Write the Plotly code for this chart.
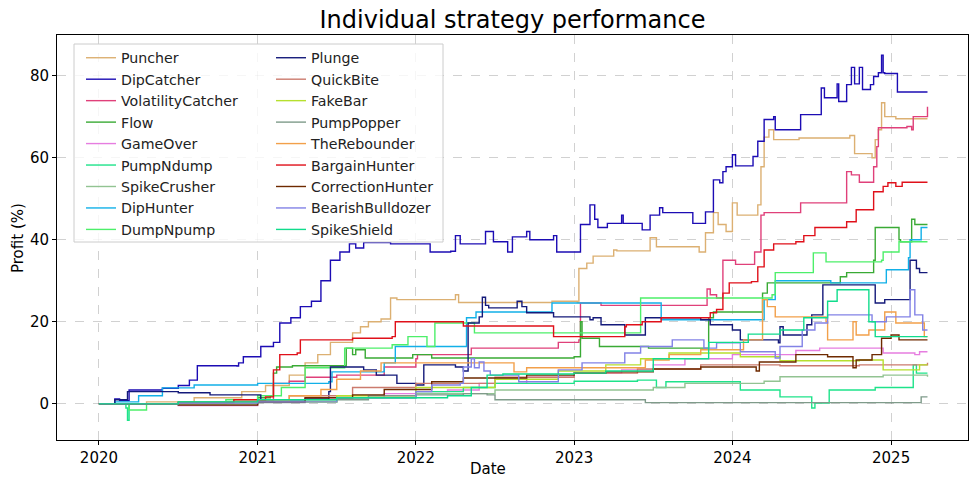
import pandas as pd
import plotly.graph_objects as go

# ---- data (time as decimal year, value as profit %) ----
PUNCHER_T = [2020.00, 2020.30, 2020.60, 2020.90, 2021.05, 2021.20, 2021.30, 2021.38, 2021.46, 2021.60, 2021.65, 2021.70, 2021.78, 2021.84, 2021.88, 2022.25, 2022.27, 2022.84, 2022.86, 2023.02, 2023.03, 2023.08, 2023.12, 2023.25, 2023.27, 2023.48, 2023.52, 2023.75, 2023.79, 2023.83, 2023.88, 2023.91, 2023.96, 2024.00, 2024.03, 2024.14, 2024.16, 2024.18, 2024.20, 2024.23, 2024.26, 2024.40, 2024.42, 2024.72, 2024.74, 2024.77, 2024.87, 2024.88, 2024.90, 2024.92, 2024.94, 2024.96, 2025.03, 2025.23]
PUNCHER_V = [0, 0.5, 1.5, 3, 4.5, 7, 10, 12, 15, 17.3, 18.8, 20, 20.7, 25.8, 25.4, 26.6, 24.7, 24.7, 25, 24.7, 33, 34.3, 36, 37.5, 37.3, 40.5, 38.3, 38.3, 37, 41.7, 46.6, 43.7, 42, 49, 46, 46, 48.5, 57.8, 65, 66.8, 64.4, 64.4, 64.8, 64.8, 65.4, 61, 61, 60, 64.4, 66.8, 73.4, 70, 69.5, 69.5]

DIPCATCHER_T = [2020.00, 2020.10, 2020.13, 2020.19, 2020.40, 2020.50, 2020.57, 2020.62, 2020.87, 2020.88, 2020.91, 2021.00, 2021.02, 2021.06, 2021.10, 2021.14, 2021.21, 2021.27, 2021.34, 2021.40, 2021.46, 2021.52, 2021.58, 2021.62, 2021.67, 2021.84, 2022.01, 2022.09, 2022.22, 2022.25, 2022.28, 2022.42, 2022.44, 2022.49, 2022.55, 2022.58, 2022.61, 2022.70, 2022.72, 2022.85, 2022.87, 2022.89, 2023.02, 2023.04, 2023.10, 2023.13, 2023.15, 2023.21, 2023.30, 2023.31, 2023.42, 2023.43, 2023.48, 2023.54, 2023.56, 2023.73, 2023.75, 2023.81, 2023.83, 2023.88, 2023.92, 2023.94, 2023.96, 2024.00, 2024.02, 2024.11, 2024.13, 2024.16, 2024.20, 2024.26, 2024.27, 2024.41, 2024.43, 2024.55, 2024.56, 2024.58, 2024.66, 2024.67, 2024.72, 2024.75, 2024.77, 2024.80, 2024.82, 2024.87, 2024.89, 2024.92, 2024.94, 2024.95, 2024.96, 2025.04, 2025.23]
DIPCATCHER_V = [0, 1.2, 0.8, 3.4, 3.8, 4.5, 5.8, 9.3, 9.2, 10, 11.5, 11.5, 14, 14, 15, 19.7, 21, 23.7, 25, 30, 35, 37, 39, 38, 39.3, 39, 39, 37, 37.2, 41, 39, 39, 42, 39.5, 39.5, 37, 40.7, 42, 40, 40, 41, 37, 37, 43.7, 48.5, 45, 43, 44, 46, 44, 44, 42.4, 46, 47.8, 46.6, 46.6, 44, 44, 46.8, 54.6, 53.9, 56.6, 57.8, 60.7, 58, 58, 60.3, 64, 69.3, 70, 66.8, 66.8, 70.5, 70.5, 77, 74.6, 78, 73.7, 77.8, 82, 78, 82, 76.6, 77.8, 79.8, 80.7, 85, 80.7, 80.5, 76, 76]

VOLATILITY_T = [2020.00, 2020.50, 2020.90, 2021.00, 2021.10, 2021.20, 2021.30, 2021.50, 2021.80, 2022.00, 2022.01, 2022.30, 2022.35, 2022.85, 2022.90, 2023.03, 2023.04, 2023.15, 2023.17, 2023.83, 2023.84, 2023.86, 2023.90, 2023.94, 2024.00, 2024.02, 2024.13, 2024.14, 2024.17, 2024.18, 2024.20, 2024.41, 2024.43, 2024.68, 2024.72, 2024.75, 2024.80, 2024.87, 2024.89, 2024.91, 2024.92, 2025.10, 2025.13, 2025.14, 2025.22, 2025.23]
VOLATILITY_V = [0, 0.3, 0.5, 1, 5, 5.5, 6.5, 7, 9, 11, 12, 12, 13.6, 13.6, 15, 15.6, 24.6, 24.6, 24, 24, 28, 26.6, 25.8, 35, 35, 34, 34, 37, 37, 46, 46.6, 46.6, 49, 49, 56.6, 55.8, 54, 54, 57.8, 62.7, 67.3, 67.6, 66.8, 70, 70, 72.4]

FLOW_T = [2020.00, 2020.50, 2021.00, 2021.08, 2021.10, 2021.12, 2021.22, 2021.55, 2021.56, 2021.60, 2021.62, 2021.67, 2021.68, 2021.88, 2021.98, 2022.10, 2022.60, 2023.00, 2023.04, 2023.05, 2023.15, 2023.16, 2023.45, 2023.47, 2023.81, 2023.85, 2023.88, 2024.18, 2024.19, 2024.22, 2024.65, 2024.68, 2024.72, 2024.88, 2024.89, 2024.90, 2025.04, 2025.05, 2025.06, 2025.12, 2025.13, 2025.15, 2025.23]
FLOW_V = [0, 0.5, 1.5, 2, 7.5, 9, 9.3, 9.3, 13.6, 12, 13.2, 13.2, 11.2, 11.2, 12, 11.2, 11.2, 11.5, 20, 16, 16, 14, 14, 13.6, 13.6, 21, 22.4, 22.4, 27, 29.5, 29.5, 31, 32, 32, 35, 43, 43, 40, 39.5, 39.5, 45, 43.7, 43.7]

GAMEOVER_T = [2020.00, 2020.50, 2021.00, 2021.30, 2021.80, 2022.00, 2022.20, 2022.40, 2022.70, 2023.00, 2023.30, 2023.50, 2023.70, 2024.00, 2024.40, 2024.55, 2024.80, 2024.95, 2025.15, 2025.18, 2025.23]
GAMEOVER_V = [0, -0.4, 0.5, 1.5, 2.5, 3, 3.4, 5, 6.5, 7.5, 8.3, 9.5, 11, 12, 13, 13.6, 13.6, 12.4, 12, 12.7, 12.7]

PUMPNDUMP_T = [2020.00, 2020.17, 2020.18, 2020.19, 2020.50, 2021.00, 2021.50, 2022.00, 2022.30, 2022.50, 2023.00, 2023.40, 2023.52, 2023.58, 2023.95, 2024.05, 2024.30, 2024.49, 2024.50, 2024.52, 2024.60, 2024.61, 2024.90, 2025.13, 2025.14, 2025.16, 2025.23]
PUMPNDUMP_V = [0, -1, -4, 0, 0.3, 0.5, 1.5, 3, 4, 5, 5.5, 5.8, 4, 5.4, 5.4, 3.4, 1.7, 1.7, -1, 0.2, 0.2, 3.4, 4, 4, 9.5, 7.5, 7.5]

SPIKECRUSHER_T = [2020.00, 2021.00, 2021.50, 2022.00, 2022.50, 2023.40, 2023.50, 2023.70, 2024.20, 2024.30, 2024.95, 2025.23]
SPIKECRUSHER_V = [0, 0.5, 1.5, 2.5, 3.4, 3.4, 4, 5, 5.5, 6.6, 7, 6.6]

DIPHUNTER_T = [2020.00, 2020.10, 2020.25, 2020.40, 2020.60, 2021.00, 2021.45, 2021.47, 2021.75, 2021.80, 2021.87, 2022.30, 2022.32, 2022.38, 2022.85, 2022.86, 2023.54, 2023.55, 2024.18, 2024.20, 2024.27, 2024.60, 2024.62, 2024.96, 2024.97, 2025.10, 2025.11, 2025.12, 2025.18, 2025.19, 2025.23]
DIPHUNTER_V = [0, 0.5, 2, 3.9, 4.6, 5, 5.4, 7.8, 7.8, 10, 14, 14, 21, 22.4, 22.4, 24.6, 24.6, 20.5, 20.5, 25.4, 30, 30, 29.5, 29.5, 32.7, 32.7, 35.6, 40, 40, 43, 43]

DUMPNPUMP_T = [2020.00, 2020.19, 2020.30, 2020.80, 2021.00, 2021.15, 2021.30, 2021.40, 2021.55, 2021.85, 2021.95, 2022.05, 2022.07, 2022.12, 2022.35, 2022.37, 2023.40, 2023.42, 2024.25, 2024.27, 2024.50, 2024.51, 2024.58, 2024.59, 2024.94, 2024.95, 2025.03, 2025.05, 2025.23]
DUMPNPUMP_V = [0, -1.5, 0, 1, 2, 4, 8.8, 8.8, 13.6, 14.4, 16.4, 16.4, 14, 19.7, 19.7, 17.3, 17.3, 25.8, 26.6, 32, 32, 36.8, 36.8, 34.6, 35, 37, 37, 39.5, 39.5]

PLUNGE_T = [2020.00, 2020.10, 2020.18, 2020.50, 2020.70, 2021.02, 2021.30, 2021.45, 2021.46, 2021.65, 2021.67, 2021.75, 2021.88, 2022.00, 2022.05, 2022.25, 2022.30, 2022.33, 2022.40, 2022.42, 2022.44, 2022.46, 2022.62, 2022.64, 2022.67, 2022.70, 2022.85, 2022.87, 2023.10, 2023.12, 2023.17, 2023.30, 2023.32, 2023.43, 2023.45, 2023.80, 2023.86, 2024.00, 2024.05, 2024.28, 2024.29, 2024.30, 2024.32, 2024.43, 2024.47, 2024.50, 2024.55, 2024.57, 2024.87, 2024.90, 2024.96, 2025.11, 2025.12, 2025.16, 2025.18, 2025.23]
PLUNGE_V = [0, 1, 3, 2.7, 2.2, 1, 1.2, 3, 9, 9, 8.3, 7, 5, 4.6, 9.5, 9, 8, 19.7, 21.2, 26, 24, 23.4, 23.4, 25, 23.7, 22.2, 22.2, 21.2, 20.5, 21, 19.3, 19.3, 16.8, 16.8, 21, 20.5, 19.3, 18, 15.6, 15.6, 14.9, 18.8, 16.8, 16.8, 19.3, 21.7, 21.7, 29, 29, 24.6, 25.4, 25.4, 35, 33, 32, 32]

QUICKBITE_T = [2020.00, 2020.80, 2021.20, 2021.60, 2022.00, 2022.50, 2023.00, 2023.40, 2023.80, 2024.30, 2024.80, 2025.23]
QUICKBITE_V = [0, 0.5, 2, 4, 5, 6.5, 7.5, 8.5, 9.5, 9.3, 9.5, 10]

FAKEBAR_T = [2020.00, 2021.00, 2021.50, 2022.00, 2022.50, 2022.90, 2023.20, 2023.42, 2023.60, 2024.05, 2024.30, 2024.80, 2024.95, 2025.15, 2025.18, 2025.23]
FAKEBAR_V = [0, 0.5, 2, 4, 6, 8, 9.5, 11, 12.4, 11.5, 10.5, 10.7, 8.3, 8.3, 9.5, 9.5]

PUMPPOPPER_T = [2020.00, 2021.00, 2021.30, 2021.70, 2022.00, 2022.30, 2022.45, 2022.50, 2023.40, 2023.45, 2025.18, 2025.19, 2025.23]
PUMPPOPPER_V = [0, 0.3, 1, 2, 2.2, 2.5, 2.2, 1, 1, 0.3, 0.3, 1.7, 1.7]

REBOUNDER_T = [2020.00, 2020.50, 2021.00, 2021.20, 2021.40, 2021.50, 2021.65, 2021.78, 2022.60, 2022.62, 2022.70, 2023.40, 2023.45, 2023.60, 2023.80, 2024.06, 2024.07, 2024.18, 2024.19, 2024.22, 2024.27, 2024.55, 2024.59, 2024.60, 2024.75, 2024.76, 2024.78, 2024.86, 2024.95, 2024.96, 2025.02, 2025.03, 2025.20, 2025.21, 2025.23]
REBOUNDER_V = [0, 0.3, 1, 2, 3.5, 6, 8, 10, 10, 7.8, 8.8, 8.8, 10.7, 12, 13.2, 13.2, 15.6, 15.6, 25.4, 23.7, 21.2, 21.2, 20, 15.6, 15.6, 20, 16.8, 18, 18, 22.4, 22.4, 19.7, 19.7, 16.4, 16.4]

BARGAIN_T = [2020.00, 2020.50, 2020.85, 2021.05, 2021.10, 2021.14, 2021.25, 2021.27, 2021.60, 2021.85, 2021.87, 2022.25, 2022.30, 2022.85, 2022.87, 2023.30, 2023.32, 2023.33, 2023.43, 2023.55, 2023.82, 2023.86, 2023.90, 2023.94, 2023.98, 2024.12, 2024.16, 2024.20, 2024.26, 2024.40, 2024.45, 2024.52, 2024.68, 2024.72, 2024.78, 2024.87, 2024.89, 2024.95, 2024.98, 2025.03, 2025.07, 2025.23]
BARGAIN_V = [0, 0.3, 1, 1.7, 8.3, 12, 12.4, 15.6, 16, 16.4, 20, 20, 19, 19, 16.4, 16.4, 18.8, 19.3, 20, 21, 21, 22.2, 23, 27, 29.5, 29.8, 33.4, 37.5, 39, 39.5, 41, 43, 43, 44.4, 47.3, 47.3, 51.7, 53, 53.9, 53, 54, 54]

CORRECTION_T = [2020.00, 2020.50, 2021.00, 2021.30, 2021.60, 2021.80, 2022.10, 2022.30, 2022.70, 2023.00, 2023.20, 2023.50, 2023.80, 2024.10, 2024.15, 2024.17, 2024.40, 2024.60, 2024.75, 2024.76, 2024.78, 2024.88, 2024.94, 2025.00, 2025.05, 2025.23]
CORRECTION_V = [0, -0.3, 0.5, 1.5, 2.2, 3.5, 5.4, 6.3, 7, 7.5, 7.8, 8.5, 9, 9, 8, 10.2, 12, 11.5, 11.5, 8.8, 10.7, 12, 16, 16.8, 15.6, 15.6]

BEARISH_T = [2020.00, 2020.50, 2021.00, 2021.50, 2022.00, 2022.10, 2022.28, 2022.30, 2022.35, 2022.37, 2022.40, 2022.43, 2022.47, 2022.62, 2022.65, 2022.85, 2022.90, 2023.05, 2023.30, 2023.32, 2023.42, 2023.62, 2023.82, 2023.90, 2024.05, 2024.25, 2024.27, 2024.30, 2024.42, 2024.44, 2024.52, 2024.60, 2024.85, 2024.88, 2024.97, 2025.10, 2025.12, 2025.15, 2025.20, 2025.23]
BEARISH_V = [0, 0.2, 0.5, 1.5, 3, 4.6, 5, 9, 11, 8.8, 10.2, 8, 7, 7, 5.4, 5.4, 8.3, 10, 10, 12.4, 14, 15.6, 13.6, 14.9, 12.7, 12.7, 11.2, 14, 14, 18, 19.7, 21.7, 21.7, 20, 21.2, 21.2, 27.8, 21.7, 18, 18]

SPIKESHIELD_T = [2020.00, 2020.50, 2021.00, 2021.50, 2022.00, 2022.20, 2022.35, 2022.45, 2022.55, 2023.00, 2023.20, 2023.50, 2023.85, 2024.10, 2024.30, 2024.45, 2024.60, 2024.66, 2024.85, 2024.86, 2024.90, 2025.23]
SPIKESHIELD_V = [0, 0.5, 1, 1.5, 1.5, 2, 4, 7, 7.3, 7.5, 8, 11, 15, 17, 18, 21, 25, 27.8, 27.8, 20, 16.4, 16.4]

NAMES = ["Puncher", "DipCatcher", "VolatilityCatcher", "Flow", "GameOver", "PumpNdump",
         "SpikeCrusher", "DipHunter", "DumpNpump", "Plunge", "QuickBite", "FakeBar",
         "PumpPopper", "TheRebounder", "BargainHunter", "CorrectionHunter",
         "BearishBulldozer", "SpikeShield"]
COLORS = ["#dcb072", "#1c0cb4", "#e0407a", "#3aaa35", "#e67de0", "#1ee38a",
          "#92c392", "#12b0e8", "#4def6a", "#141a7a", "#cc7b6e", "#b6e02e",
          "#7f9b8a", "#f2a04a", "#e0101a", "#6e2a00", "#8282e6", "#10dc8c"]
SERIES_T = [PUNCHER_T, DIPCATCHER_T, VOLATILITY_T, FLOW_T, GAMEOVER_T, PUMPNDUMP_T,
            SPIKECRUSHER_T, DIPHUNTER_T, DUMPNPUMP_T, PLUNGE_T, QUICKBITE_T, FAKEBAR_T,
            PUMPPOPPER_T, REBOUNDER_T, BARGAIN_T, CORRECTION_T, BEARISH_T, SPIKESHIELD_T]
SERIES_V = [PUNCHER_V, DIPCATCHER_V, VOLATILITY_V, FLOW_V, GAMEOVER_V, PUMPNDUMP_V,
            SPIKECRUSHER_V, DIPHUNTER_V, DUMPNPUMP_V, PLUNGE_V, QUICKBITE_V, FAKEBAR_V,
            PUMPPOPPER_V, REBOUNDER_V, BARGAIN_V, CORRECTION_V, BEARISH_V, SPIKESHIELD_V]
YEAR_TICKS = [2020, 2021, 2022, 2023, 2024, 2025]
Y_TICKS = [0, 20, 40, 60, 80]


def to_date(y):
    yr = int(y)
    start = pd.Timestamp(yr, 1, 1)
    days = (pd.Timestamp(yr + 1, 1, 1) - start).days
    return start + pd.Timedelta(days=(y - yr) * days)


# figure geometry (pixels)
W, H = 980, 490
L, R, T, B = 57, 12, 35, 50
PW, PH = W - L - R, H - T - B


def px(x):
    return (x - L) / PW


def py(y):
    return 1 - (y - T) / PH


FONT = "DejaVu Sans"
fig = go.Figure()
for i, (name, col, ts, vs) in enumerate(zip(NAMES, COLORS, SERIES_T, SERIES_V)):
    fig.add_trace(go.Scatter(
        x=[to_date(t) for t in ts], y=vs, mode="lines", name=name,
        line=dict(color=col, width=1.4, shape="hv"),
        legend="legend" if i < 9 else "legend2",
    ))

legend_common = dict(
    bgcolor="rgba(0,0,0,0)", borderwidth=0, font=dict(family=FONT, size=14.2, color="#222"),
    xanchor="left", yanchor="top", tracegroupgap=0, itemwidth=30,
)
fig.update_layout(
    width=W, height=H,
    margin=dict(l=L, r=R, t=T, b=B),
    paper_bgcolor="white", plot_bgcolor="white",
    font=dict(family=FONT, size=13, color="black"),
    title=dict(text="Individual strategy performance", x=(L + PW / 2) / W, xanchor="center",
               y=1 - 20 / H, yanchor="middle", font=dict(family=FONT, size=24, color="black")),
    legend=dict(x=px(81), y=py(42), **legend_common),
    legend2=dict(x=px(271), y=py(42), **legend_common),
    showlegend=True,
    shapes=[dict(type="rect", xref="paper", yref="paper", x0=px(74), x1=px(443),
                 y0=py(242), y1=py(44), line=dict(color="#cccccc", width=1),
                 fillcolor="rgba(255,255,255,0.8)", layer="above")],
    annotations=[
        dict(text="Date", xref="paper", yref="paper", x=px(488), y=py(469),
             xanchor="center", yanchor="middle", showarrow=False,
             font=dict(family=FONT, size=15, color="black")),
        dict(text="Profit (%)", xref="paper", yref="paper", x=px(18), y=py(238),
             xanchor="center", yanchor="middle", showarrow=False, textangle=-90,
             font=dict(family=FONT, size=15, color="black")),
    ],
)
fig.update_xaxes(
    range=[to_date(2019.735), to_date(2025.486)],
    tickvals=[pd.Timestamp(y, 1, 1) for y in YEAR_TICKS],
    ticktext=[str(y) for y in YEAR_TICKS],
    showgrid=True, gridcolor="rgba(0,0,0,0.18)", griddash="dash", gridwidth=1,
    showline=True, mirror=True, linecolor="black", linewidth=1,
    ticks="outside", ticklen=4, tickcolor="black",
    tickfont=dict(family=FONT, size=15, color="black"),
    zeroline=False, automargin=False,
)
fig.update_yaxes(
    range=[-8.8, 89.9], tickvals=Y_TICKS,
    showgrid=True, gridcolor="rgba(0,0,0,0.18)", griddash="dash", gridwidth=1,
    showline=True, mirror=True, linecolor="black", linewidth=1,
    ticks="outside", ticklen=4, tickcolor="black",
    tickfont=dict(family=FONT, size=15, color="black"),
    zeroline=False, automargin=False,
)
fig.write_html("out.html", post_script="document.body.style.margin='0';",
               config={"displayModeBar": False})
